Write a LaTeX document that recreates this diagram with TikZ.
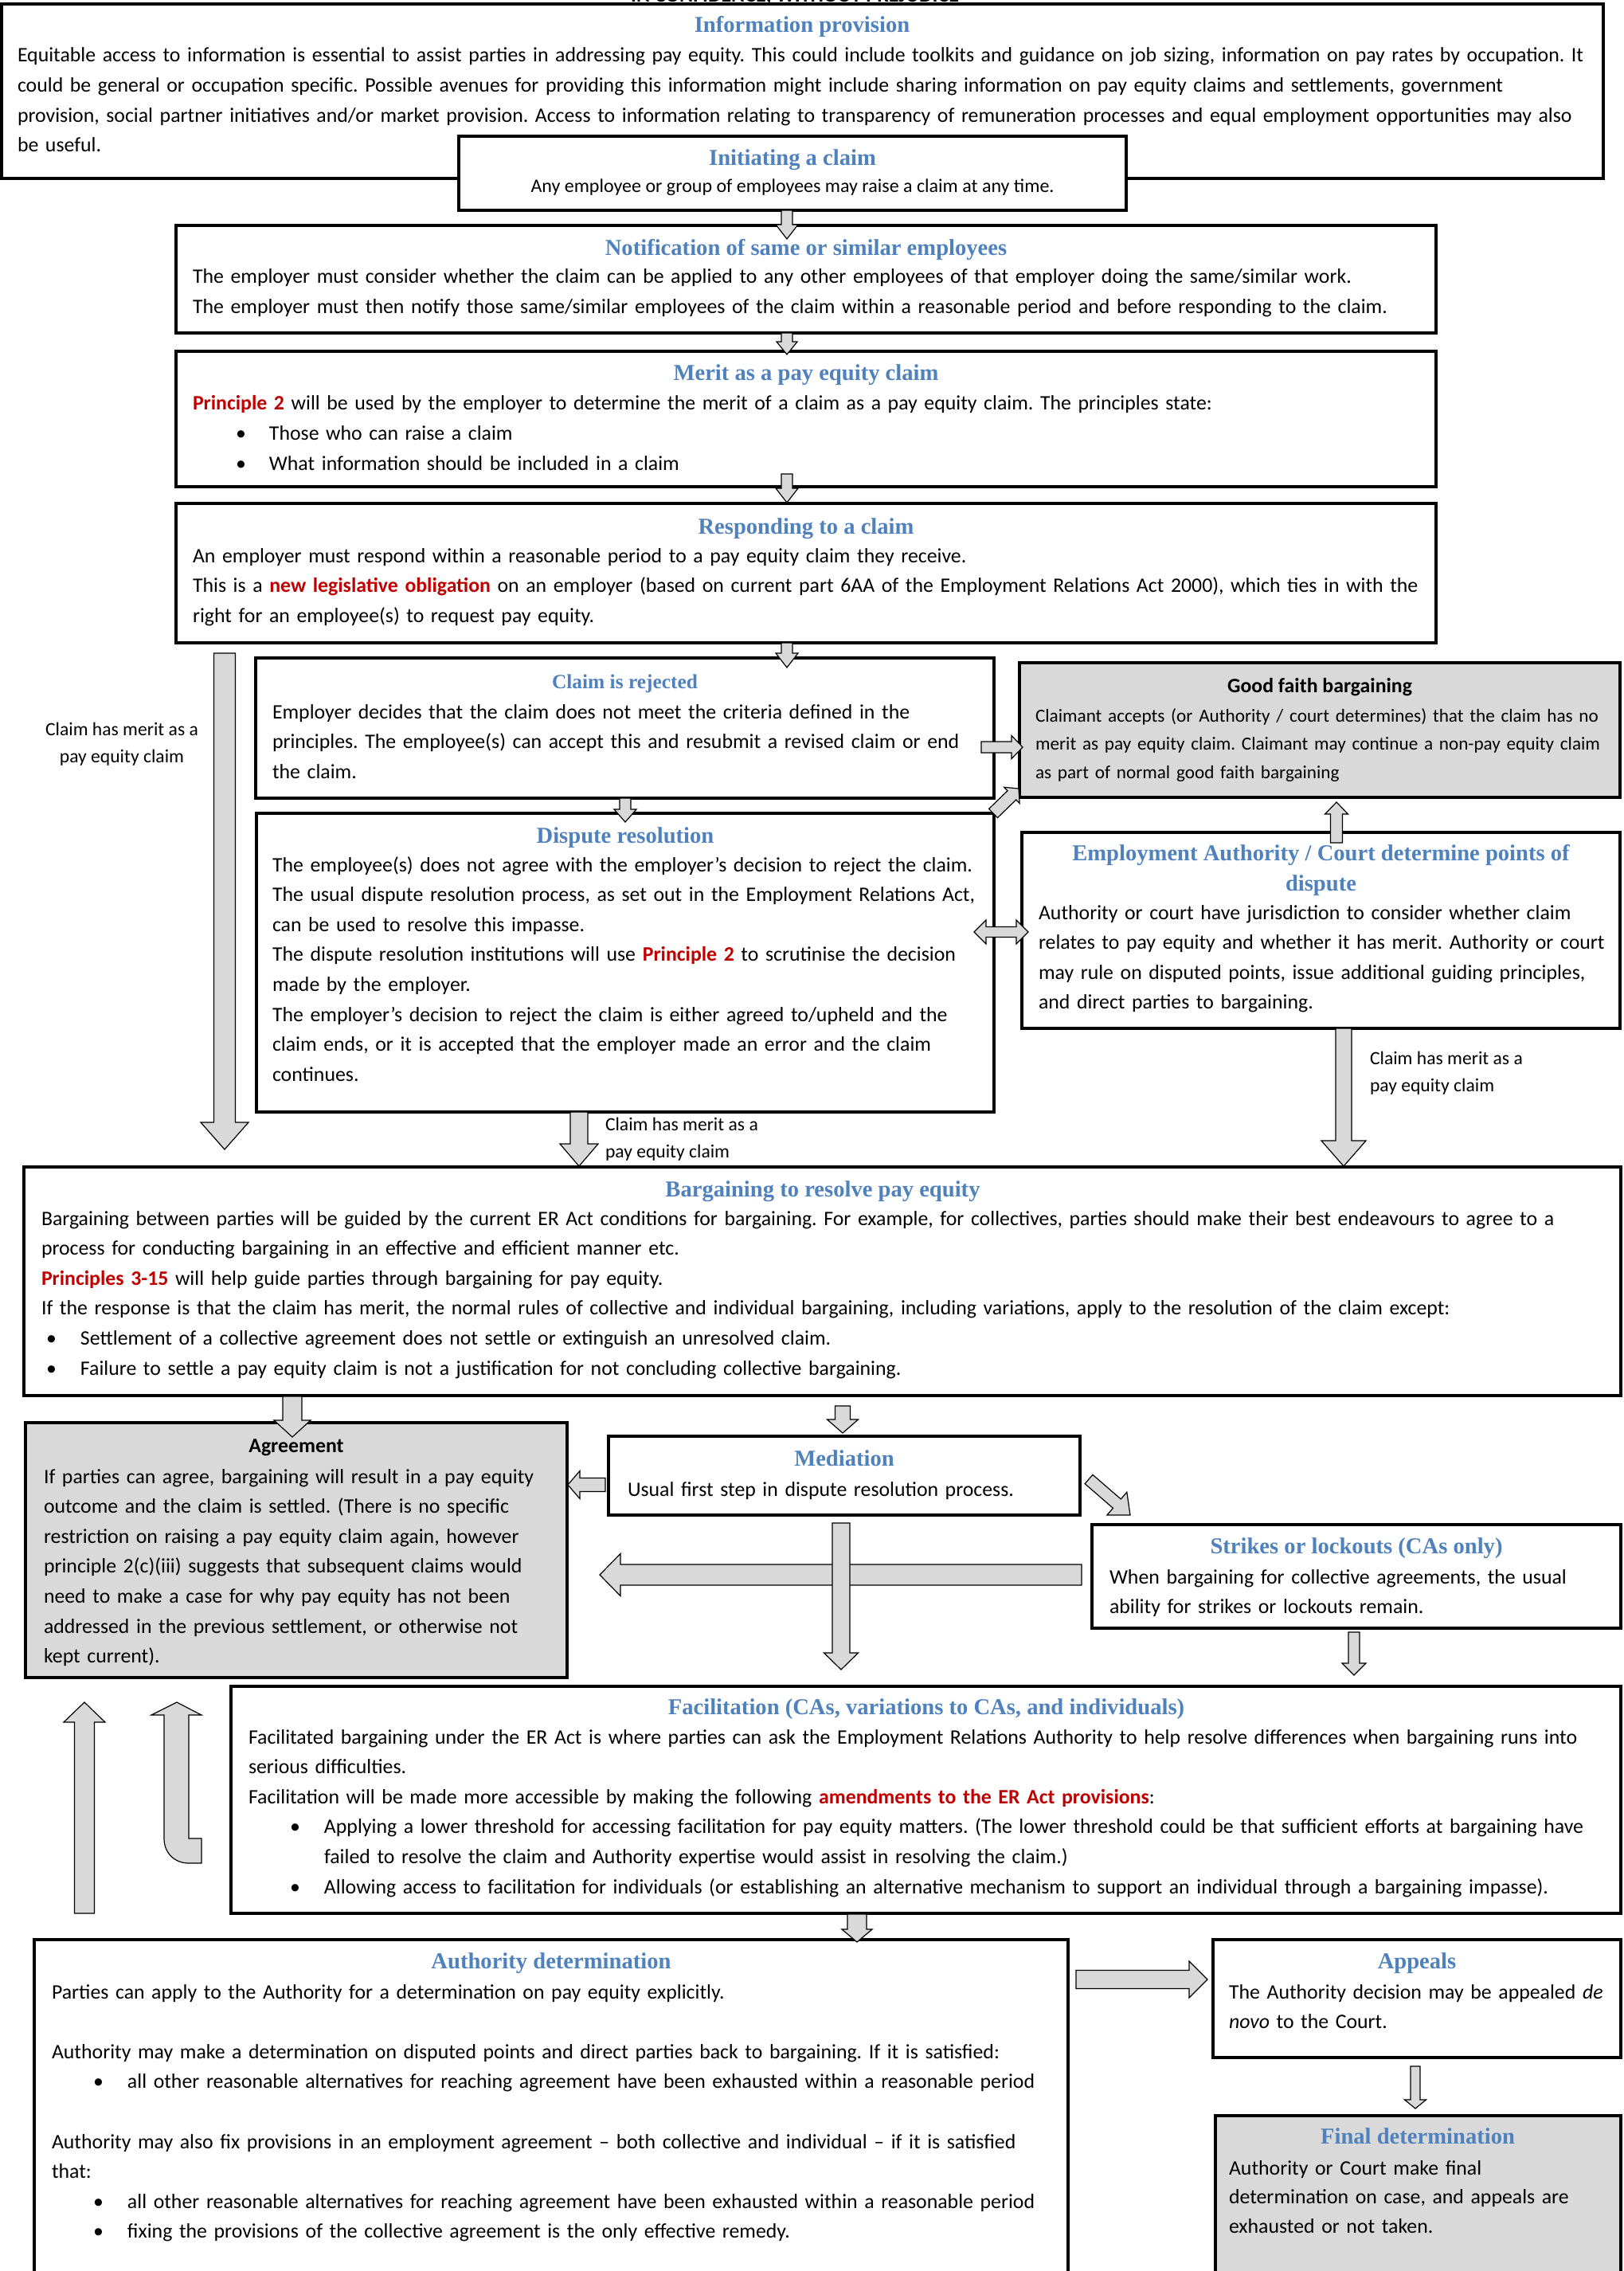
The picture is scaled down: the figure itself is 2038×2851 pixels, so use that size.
\documentclass[tikz,border=0pt]{standalone}
\usepackage{fontspec}
\setmainfont{Carlito}
\newfontfamily\headfont{Liberation Serif}
\usetikzlibrary{calc}
\definecolor{hblue}{HTML}{4F81BD}
\definecolor{hred}{HTML}{C00000}
\definecolor{bgray}{HTML}{D9D9D9}
\newcommand\fBody{\fontsize{12.9pt}{18.8pt}\selectfont}
\newcommand\fTitle{\headfont\bfseries\fontsize{14.3pt}{18.8pt}\selectfont}
\newcommand\fSmall{\fontsize{11.6pt}{17.75pt}\selectfont}
\newcommand\fLab{\fontsize{11.8pt}{17.25pt}\selectfont}
\newcommand\rd[1]{\textcolor{hred}{\bfseries #1}}
\newcommand\bu[2]{\hspace*{#1pt}\makebox[#2pt][l]{•}}
\tikzset{
 boxst/.style={draw=black, line width=1.7pt, fill=white, inner sep=0pt, outer sep=0pt, rectangle},
 graybox/.style={boxst, fill=bgray},
 blk/.style={draw=black, line width=0.6pt, fill=bgray, line join=miter},
 txt/.style={anchor=base west, inner sep=0pt, outer sep=0pt, align=left, text width=1200pt, font=\fBody},
 ttl/.style={anchor=base, inner sep=0pt, outer sep=0pt, align=center, font=\fTitle, text=hblue},
 btl/.style={anchor=base, inner sep=0pt, outer sep=0pt, font=\fBody\bfseries},
 lab/.style={inner sep=0pt, outer sep=0pt, font=\fLab},
}
\newcommand\mkbox[6][boxst]{\node[#1,anchor=north west,minimum width={(#5-#3)*0.5pt},minimum height={(#6-#4)*0.5pt}] (#2) at (#3,#4) {};}
\newcommand\blkarrow[5]{%
 \coordinate (bH) at ($(#2)!#5pt!(#1)$);
 \draw[blk] ($(#1)!#3pt!90:(#2)$) -- ($(bH)!#3pt!90:(#2)$) -- ($(bH)!#4pt!90:(#2)$) -- (#2) -- ($(bH)!#4pt!-90:(#2)$) -- ($(bH)!#3pt!-90:(#2)$) -- ($(#1)!#3pt!-90:(#2)$) -- cycle;}
\newcommand\dblarrow[5]{%
 \coordinate (bHa) at ($(#1)!#5pt!(#2)$);
 \coordinate (bHb) at ($(#2)!#5pt!(#1)$);
 \draw[blk] (#1) -- ($(bHa)!#4pt!90:(#2)$) -- ($(bHa)!#3pt!90:(#2)$) -- ($(bHb)!#3pt!-90:(#1)$) -- ($(bHb)!#4pt!-90:(#1)$) -- (#2) -- ($(bHb)!#4pt!90:(#1)$) -- ($(bHb)!#3pt!90:(#1)$) -- ($(bHa)!#3pt!-90:(#2)$) -- ($(bHa)!#4pt!-90:(#2)$) -- cycle;}
\begin{document}
\frenchspacing
\begin{tikzpicture}[x=0.5pt,y=-0.5pt]
\clip (0,0) rectangle (2038,2851);
\fill[white] (0,0) rectangle (2038,2851);
% header fragment
\node[anchor=base, inner sep=0pt, font=\fontsize{13pt}{13pt}\selectfont\bfseries] (hdr) at (998,3) {IN CONFIDENCE, WITHOUT PREJUDICE};
% boxes
\mkbox{info}{2}{5}{2013}{224}
\mkbox{init}{576}{171}{1414}{264}
\mkbox{notif}{221}{283}{1803}{418}
\mkbox{merit}{221}{441}{1803}{611}
\mkbox{resp}{221}{632}{1803}{807}
\mkbox{rej}{321}{826}{1248}{1002}
\mkbox[graybox]{gfb}{1280}{832}{2034}{1001}
\mkbox{disp}{322}{1021}{1248}{1396}
\mkbox{ea}{1283}{1045}{2034}{1291}
\mkbox{barg}{30}{1465}{2035}{1752}
\mkbox[graybox]{agree}{32}{1786}{712}{2106}
\mkbox{med}{764}{1803}{1356}{1902}
\mkbox{strike}{1371}{1914}{2035}{2044}
\mkbox{fac}{290}{2117}{2035}{2402}
\mkbox{auth}{43}{2435}{1341}{2900}
\mkbox{appeal}{1523}{2435}{2035}{2583}
\mkbox[graybox]{final}{1526}{2656}{2035}{2900}
% texts
\node[ttl] (info-t) at (1007,41) {Information provision};
\node[txt] (info-b) at (22,78) {Equitable access to information is essential to assist parties in addressing pay equity. This could include toolkits and guidance on job sizing, information on pay rates by occupation. It\\
could be general or occupation specific. Possible avenues for providing this information might include sharing information on pay equity claims and settlements, government\\
provision, social partner initiatives and/or market provision. Access to information relating to transparency of remuneration processes and equal employment opportunities may also\\
be useful.};
\node[ttl] (init-t) at (995,208) {Initiating a claim};
\node[anchor=base, inner sep=0pt, font=\fontsize{12pt}{14pt}\selectfont] (init-b) at (995,242) {Any employee or group of employees may raise a claim at any time.};
\node[ttl] (notif-t) at (1012,321) {Notification of same or similar employees};
\node[txt] (notif-b) at (242,356) {The employer must consider whether the claim can be applied to any other employees of that employer doing the same/similar work.\\
The employer must then notify those same/similar employees of the claim within a reasonable period and before responding to the claim.};
\node[ttl] (merit-t) at (1012,478) {Merit as a pay equity claim};
\node[txt] (merit-b) at (242,515) {\rd{Principle 2} will be used by the employer to determine the merit of a claim as a pay equity claim. The principles state:\\
\bu{27}{21}Those who can raise a claim\\
\bu{27}{21}What information should be included in a claim};
\node[ttl] (resp-t) at (1012,670) {Responding to a claim};
\node[txt] (resp-b) at (242,706) {An employer must respond within a reasonable period to a pay equity claim they receive.\\
This is a \rd{new legislative obligation} on an employer (based on current part 6AA of the Employment Relations Act 2000), which ties in with the\\
right for an employee(s) to request pay equity.};
\node[ttl, font=\headfont\bfseries\fontsize{12.7pt}{18.8pt}\selectfont] (rej-t) at (784.5,864) {Claim is rejected};
\node[txt] (rej-b) at (342,902) {Employer decides that the claim does not meet the criteria defined in the\\
principles. The employee(s) can accept this and resubmit a revised claim or end\\
the claim.};
\node[btl] (gfb-t) at (1657,869) {Good faith bargaining};
\node[txt, font=\fSmall] (gfb-b) at (1300,906) {Claimant accepts (or Authority / court determines) that the claim has no\\
merit as pay equity claim. Claimant may continue a non-pay equity claim\\
as part of normal good faith bargaining};
\node[ttl] (disp-t) at (785,1058) {Dispute resolution};
\node[txt] (disp-b) at (342,1094) {The employee(s) does not agree with the employer’s decision to reject the claim.\\
The usual dispute resolution process, as set out in the Employment Relations Act,\\
can be used to resolve this impasse.\\
The dispute resolution institutions will use \rd{Principle 2} to scrutinise the decision\\
made by the employer.\\
The employer’s decision to reject the claim is either agreed to/upheld and the\\
claim ends, or it is accepted that the employer made an error and the claim\\
continues.};
\node[ttl] (ea-t) at (1658.5,1118) {Employment Authority / Court determine points of\\dispute};
\node[txt] (ea-b) at (1304,1154) {Authority or court have jurisdiction to consider whether claim\\
relates to pay equity and whether it has merit. Authority or court\\
may rule on disputed points, issue additional guiding principles,\\
and direct parties to bargaining.};
\node[ttl] (barg-t) at (1033,1502) {Bargaining to resolve pay equity};
\node[txt] (barg-b) at (52,1538) {Bargaining between parties will be guided by the current ER Act conditions for bargaining. For example, for collectives, parties should make their best endeavours to agree to a\\
process for conducting bargaining in an effective and efficient manner etc.\\
\rd{Principles 3-15} will help guide parties through bargaining for pay equity.\\
If the response is that the claim has merit, the normal rules of collective and individual bargaining, including variations, apply to the resolution of the claim except:\\
\bu{3}{21.5}Settlement of a collective agreement does not settle or extinguish an unresolved claim.\\
\bu{3}{21.5}Failure to settle a pay equity claim is not a justification for not concluding collective bargaining.};
\node[btl] (agree-t) at (372,1823) {Agreement};
\node[txt] (agree-b) at (55,1862) {If parties can agree, bargaining will result in a pay equity\\
outcome and the claim is settled. (There is no specific\\
restriction on raising a pay equity claim again, however\\
principle 2(c)(iii) suggests that subsequent claims would\\
need to make a case for why pay equity has not been\\
addressed in the previous settlement, or otherwise not\\
kept current).};
\node[ttl] (med-t) at (1060,1840) {Mediation};
\node[txt] (med-b) at (788,1878) {Usual first step in dispute resolution process.};
\node[ttl] (strike-t) at (1703,1950) {Strikes or lockouts (CAs only)};
\node[txt] (strike-b) at (1393,1988) {When bargaining for collective agreements, the usual\\
ability for strikes or lockouts remain.};
\node[ttl] (fac-t) at (1163,2152) {Facilitation (CAs, variations to CAs, and individuals)};
\node[txt] (fac-b) at (312,2189) {Facilitated bargaining under the ER Act is where parties can ask the Employment Relations Authority to help resolve differences when bargaining runs into\\
serious difficulties.\\
Facilitation will be made more accessible by making the following \rd{amendments to the ER Act provisions}:\\
\bu{26}{21.5}Applying a lower threshold for accessing facilitation for pay equity matters. (The lower threshold could be that sufficient efforts at bargaining have\\
\hspace*{47.5pt}failed to resolve the claim and Authority expertise would assist in resolving the claim.)\\
\bu{26}{21.5}Allowing access to facilitation for individuals (or establishing an alternative mechanism to support an individual through a bargaining impasse).};
\node[ttl] (auth-t) at (692,2471) {Authority determination};
\node[txt] (auth-b) at (65,2509) {Parties can apply to the Authority for a determination on pay equity explicitly.\\
\mbox{}\\
Authority may make a determination on disputed points and direct parties back to bargaining. If it is satisfied:\\
\bu{26}{21.5}all other reasonable alternatives for reaching agreement have been exhausted within a reasonable period\\
\mbox{}\\
Authority may also fix provisions in an employment agreement – both collective and individual – if it is satisfied\\
that:\\
\bu{26}{21.5}all other reasonable alternatives for reaching agreement have been exhausted within a reasonable period\\
\bu{26}{21.5}fixing the provisions of the collective agreement is the only effective remedy.};
\node[ttl] (appeal-t) at (1779,2471) {Appeals};
\node[txt] (appeal-b) at (1543,2509) {The Authority decision may be appealed \emph{de}\\
\emph{novo} to the Court.};
\node[ttl] (final-t) at (1780,2691) {Final determination};
\node[txt, font=\fontsize{12.9pt}{18.25pt}\selectfont] (final-b) at (1543,2730) {Authority or Court make final\\
determination on case, and appeals are\\
exhausted or not taken.};
% labels (anchor at last line's baseline)
\node[lab, anchor=base, align=center] (lab1) at (153,957.5) {Claim has merit as a\\pay equity claim};
\node[lab, anchor=base west, align=left] (lab2) at (760,1453.5) {Claim has merit as a\\pay equity claim};
\node[lab, anchor=base west, align=left] (lab3) at (1720,1370.5) {Claim has merit as a\\pay equity claim};
% connector coordinates
\coordinate (a1s) at (988,264); \coordinate (a1e) at (988,300);
\coordinate (a2s) at (988,418); \coordinate (a2e) at (988,445);
\coordinate (a3s) at (988,595); \coordinate (a3e) at (988,631);
\coordinate (a4s) at (988,807); \coordinate (a4e) at (988,838);
\coordinate (a5s) at (282,820); \coordinate (a5e) at (282,1443);
\coordinate (a6s) at (785,1002); \coordinate (a6e) at (785,1032);
\coordinate (a7s) at (1232,938); \coordinate (a7e) at (1284,938);
\coordinate (a8s) at (1247,1021); \coordinate (a8e) at (1279,990);
\coordinate (a9s) at (1223,1170); \coordinate (a9e) at (1291,1170);
\coordinate (a10s) at (1678,1058); \coordinate (a10e) at (1678,1007);
\coordinate (a11s) at (1687,1291); \coordinate (a11e) at (1687,1464);
\coordinate (a12s) at (727,1396); \coordinate (a12e) at (727,1464);
\coordinate (a13s) at (367,1753); \coordinate (a13e) at (367,1804);
\coordinate (a14s) at (1058,1765); \coordinate (a14e) at (1058,1799);
\coordinate (a15s) at (760,1864); \coordinate (a15e) at (713,1864);
\coordinate (a16s) at (1367,1857); \coordinate (a16e) at (1419,1902);
\coordinate (a17s) at (1358,1977); \coordinate (a17e) at (753,1977);
\coordinate (a18s) at (1056,1912); \coordinate (a18e) at (1056,2096);
\coordinate (a19s) at (1700,2049); \coordinate (a19e) at (1700,2103);
\coordinate (a20s) at (1076,2403); \coordinate (a20e) at (1076,2438);
\coordinate (a21s) at (106,2402); \coordinate (a21e) at (106,2137);
\coordinate (a23s) at (1351,2485); \coordinate (a23e) at (1516,2485);
\coordinate (a24s) at (1777,2594); \coordinate (a24e) at (1777,2647);
\coordinate (utip) at (222,2137);
% connectors
\blkarrow{a1s}{a1e}{3.5}{7}{9}
\blkarrow{a2s}{a2e}{3.5}{6.5}{8}
\blkarrow{a3s}{a3e}{3.5}{7}{9}
\blkarrow{a4s}{a4e}{3.5}{7}{9}
\blkarrow{a5s}{a5e}{6.75}{15}{17}
\blkarrow{a6s}{a6e}{3.5}{7}{8}
\blkarrow{a7s}{a7e}{3.5}{7.25}{7}
\blkarrow{a8s}{a8e}{3.9}{7}{6}
\dblarrow{a9s}{a9e}{3.25}{7.5}{7.5}
\blkarrow{a10s}{a10e}{3.75}{7.25}{7.5}
\blkarrow{a11s}{a11e}{5}{14}{16}
\blkarrow{a12s}{a12e}{5.5}{12}{14}
\blkarrow{a13s}{a13e}{6}{11.5}{10.5}
\blkarrow{a14s}{a14e}{4.75}{9.75}{8.5}
\blkarrow{a15s}{a15e}{4.25}{8.75}{7.5}
\blkarrow{a16s}{a16e}{3.75}{9.5}{11}
\blkarrow{a17s}{a17e}{6.5}{13.25}{13}
\blkarrow{a18s}{a18e}{5.5}{10.75}{10.5}
\blkarrow{a19s}{a19e}{3.5}{7.5}{7.5}
\blkarrow{a20s}{a20e}{6}{9.5}{8}
\blkarrow{a21s}{a21e}{6.25}{13}{12.5}
\draw[blk] (utip) -- (253,2153) -- (237,2153) -- (237,2308) -- (253,2308) -- (253,2339) -- (237,2339) .. controls (219,2339) and (206,2326) .. (206,2308) -- (206,2153) -- (190,2153) -- cycle;
\blkarrow{a23s}{a23e}{5.75}{11.5}{11.5}
\blkarrow{a24s}{a24e}{3}{6.75}{5.5}
\end{tikzpicture}
\end{document}
